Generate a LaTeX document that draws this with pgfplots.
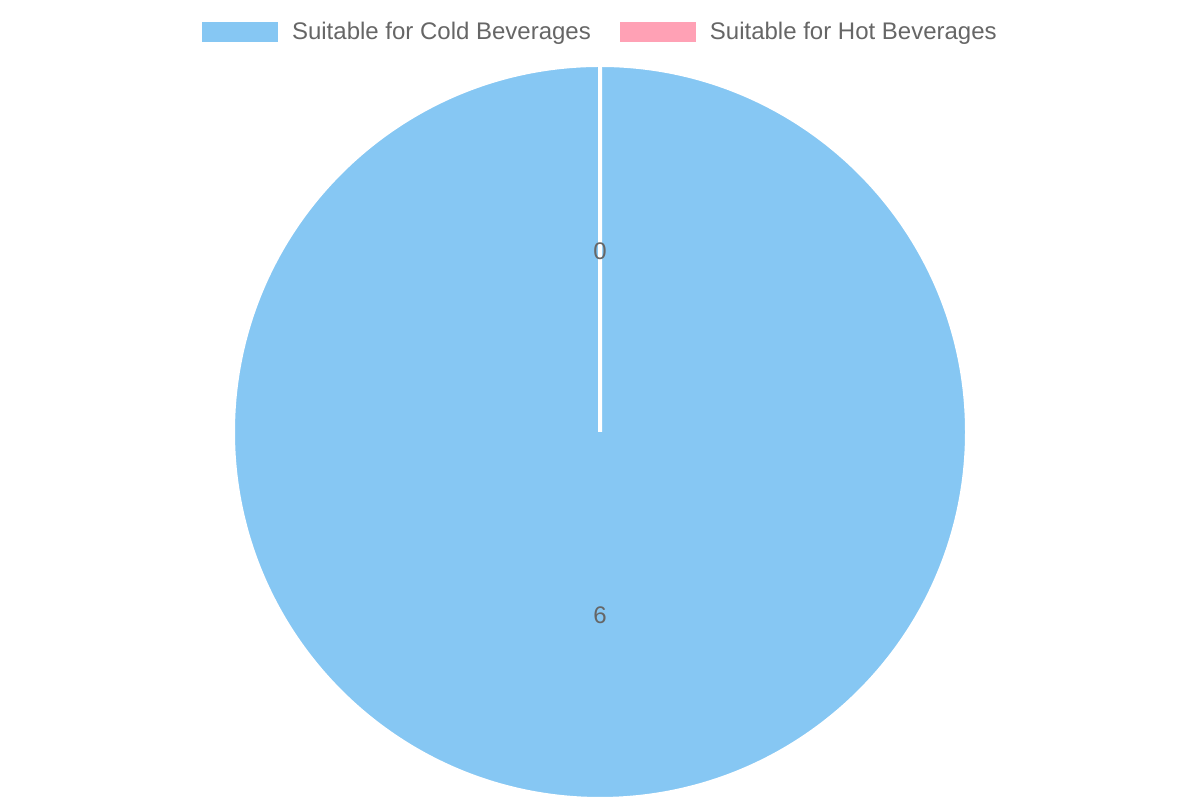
\documentclass[border=0pt]{standalone}
\usepackage{fontspec}
\setmainfont{Liberation Sans}
\usepackage{pgfplots}
\usepackage{pgfplotstable}
\pgfplotsset{compat=1.18}

\definecolor{coldfill}{HTML}{86C7F3}
\definecolor{hotfill}{HTML}{FFA1B5}
\definecolor{labelgray}{HTML}{666666}

% slice values
\pgfplotstableread{
label value
Cold 6
Hot 0
}\pietable

\begin{document}
\begin{tikzpicture}
    \pgfplotstablegetelem{0}{value}\of\pietable \let\vcold\pgfplotsretval
    \pgfplotstablegetelem{1}{value}\of\pietable \let\vhot\pgfplotsretval
    \pgfmathsetmacro\total{\vcold+\vhot}
    % angles run clockwise from the top
    \pgfmathsetmacro\acold{90-360*\vcold/\total}
    \pgfmathsetmacro\ahot{\acold-360*\vhot/\total}
    \pgfmathsetmacro\mcold{(90+\acold)/2}
    \pgfmathsetmacro\mhot{(\acold+\ahot)/2}
    \pgfmathsetmacro\xcold{600+182*cos(\mcold)}
    \pgfmathsetmacro\ycold{367+182*sin(\mcold)}
    \pgfmathsetmacro\xhot{600+182*cos(\mhot)}
    \pgfmathsetmacro\yhot{367+182*sin(\mhot)}
    \begin{axis}[
        scale only axis,
        width=600pt, height=400pt,
        xmin=0, xmax=1200, ymin=0, ymax=800,
        hide axis, clip=false,
        font=\fontsize{12}{14}\selectfont,
        legend columns=2,
        legend style={at={(0.4995,0.96)}, anchor=center, draw=none, fill=none,
            text=labelgray, inner sep=0pt, column sep=0pt,
            nodes={inner sep=0pt, anchor=west},
            /tikz/every even column/.append style={column sep=14.5pt}},
        legend image code/.code={
            \path[draw=none, fill=none] (0pt,0pt) -- (45pt,0pt);
            \fill[#1, draw=none] (0pt,-5pt) rectangle (38pt,5pt);},
    ]
    \path (axis cs:0,0) rectangle (axis cs:1200,800);

    \fill[coldfill, draw=white, line width=2pt, line join=miter]
        (axis cs:600,368) -- ++(90:183.5pt) arc[start angle=90, end angle=\acold, radius=183.5pt] -- cycle;
    \fill[hotfill, draw=white, line width=2pt]
        (axis cs:600,368) -- ++(\acold:183.5pt) arc[start angle=\acold, end angle=\ahot, radius=183.5pt] -- cycle;

    \node[text=labelgray] at (axis cs:\xhot,\yhot) {\vhot};
    \node[text=labelgray] at (axis cs:\xcold,\ycold) {\vcold};

    \addlegendimage{coldfill}
    \addlegendentry{Suitable for Cold Beverages}
    \addlegendimage{hotfill}
    \addlegendentry{Suitable for Hot Beverages}
    \end{axis}
\end{tikzpicture}
\end{document}
